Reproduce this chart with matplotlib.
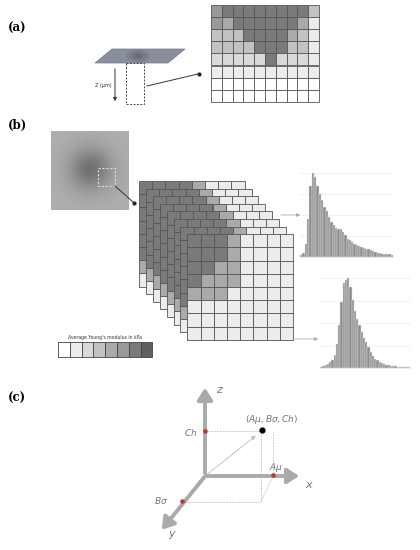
import numpy as np
import matplotlib
matplotlib.use("Agg")
import matplotlib.pyplot as plt
from matplotlib.patches import Rectangle, Polygon

# ---- data ----
shades = ['#ffffff', '#ececec', '#d9d9d9', '#c2c2c2', '#aaaaaa', '#999999', '#7a7a7a', '#5f5f5f']
grid_a = ["5666666663",
          "5466666641",
          "3336666431",
          "3333666331",
          "2222262221",
          "1111111111",
          "0000000000",
          "0000000000"]
grid_front = ["66641111",
              "66641111",
              "66441111",
              "64441111",
              "44411111",
              "11111111",
              "11111111",
              "11111111"]
grid_back = ["66664111",
             "66641111",
             "66441111",
             "66441111",
             "66411111",
             "66411111",
             "41111111",
             "11111111"]
n_layers = 8
hist1 = [2, 5, 15, 45, 85, 100, 95, 85, 75, 68, 60, 55, 48, 42, 38, 35, 33, 33, 30, 26,
         22, 20, 18, 16, 14, 13, 12, 11, 10, 9, 8, 7, 6, 5, 5, 4, 4, 3, 3, 2]
hist2 = [1, 2, 3, 4, 6, 8, 14, 25, 45, 70, 90, 93, 95, 85, 72, 60, 52, 45, 38, 32,
         27, 22, 17, 13, 10, 8, 6, 5, 4, 3, 3, 2, 2, 2, 1, 1, 1, 1, 1, 1]
legend_levels = [0, 1, 2, 3, 4, 5, 6, 7]

fig = plt.figure(figsize=(4.2, 5.5), dpi=100)
ax = fig.add_axes([0, 0, 1, 1])
ax.set_xlim(0, 420); ax.set_ylim(550, 0); ax.axis('off')

def draw_grid(grid, x0, y0, cw, ch, z=1):
    for r, row in enumerate(grid):
        for c, v in enumerate(row):
            ax.add_patch(Rectangle((x0 + c*cw, y0 + r*ch), cw, ch, facecolor=shades[int(v)],
                                   edgecolor='#555555', lw=0.6, zorder=z))

serif = 'DejaVu Serif'
for lab, y in [('(a)', 28), ('(b)', 125), ('(c)', 398)]:
    ax.text(8, y, lab, fontsize=8.5, fontweight='bold', family=serif, va='center')

# ---- panel (a) ----
draw_grid(grid_a, 211, 5, 10.8, 12.1)
ax.add_patch(Polygon([(95, 63), (112, 49), (185, 49), (168, 63)], closed=True,
                     facecolor='#8a8f9e', edgecolor='#777a88', lw=0.5, zorder=2))
for s, a in [(12, 0.12), (8, 0.15), (4, 0.2)]:
    ax.add_patch(matplotlib.patches.Ellipse((138, 56), 2*s, s*1.1, color='#3a3a3a', alpha=a, lw=0, zorder=3))
ax.add_patch(Rectangle((126, 63), 18, 41, fill=False, ls=(0, (2, 1.5)), lw=0.7, edgecolor='#444', zorder=3))
ax.annotate('', xy=(115, 104), xytext=(115, 66), arrowprops=dict(arrowstyle='-|>', lw=0.7, color='#333', mutation_scale=5))
ax.text(112, 85, 'Z (μm)', fontsize=3.5, ha='right', va='center', color='#333')
ax.plot([147, 198], [86, 74], color='#333', lw=0.7)
ax.plot([199], [74], 'o', ms=2, color='#222')

# ---- panel (b) ----
yy, xx = np.mgrid[0:80, 0:80]
r2 = (xx - 40)**2 + (yy - 38)**2
img = 0.68 - 0.24*np.exp(-r2/450)
ax.imshow(img, cmap='gray', vmin=0, vmax=1, extent=(51, 129, 210, 131), zorder=1)
ax.add_patch(Rectangle((98, 168), 17, 18, fill=False, ls=(0, (2, 1.5)), lw=0.8, edgecolor='#dddddd', zorder=3))
ax.plot([115, 133], [186, 202], color='#333', lw=0.7, zorder=3)
ax.plot([134], [203], 'o', ms=2, color='#222', zorder=3)
cw = 13.2
for k in range(n_layers):
    g = grid_front if k == n_layers - 1 else grid_back
    draw_grid(g, 139 + 6.9*k, 181 + 7.6*k, cw, cw, z=2 + k)
# legend
for i, lv in enumerate(legend_levels):
    ax.add_patch(Rectangle((58 + i*11.8, 342), 11.8, 15, facecolor=shades[lv], edgecolor='#444', lw=0.6))
ax.text(105, 337, "Average Young's modulus in kPa", fontsize=3.3, ha='center', va='center', color='#333')

def hist(vals, x0, x1, base, height):
    w = (x1 - x0)/len(vals)
    for gy in np.linspace(base, base - height, 5):
        ax.plot([x0, x1], [gy, gy], color='#ececec', lw=0.5, zorder=1)
    m = max(vals)
    for i, v in enumerate(vals):
        ax.add_patch(Rectangle((x0 + i*w, base), w, -v/m*height, facecolor='#8c8c8c',
                               edgecolor='#e0e0e0', lw=0.35, zorder=2))
hist(hist1, 300, 393, 257, 84)
hist(hist2, 320, 410, 368, 90)
ax.annotate('', xy=(303, 215), xytext=(278, 215), arrowprops=dict(arrowstyle='-|>', lw=0.6, color='#aaa', mutation_scale=5))
ax.annotate('', xy=(321, 339), xytext=(292, 339), arrowprops=dict(arrowstyle='-|>', lw=0.6, color='#aaa', mutation_scale=5))

# ---- panel (c) ----
O = (205, 476)
ac = '#aaaaaa'
kw = dict(arrowstyle='-|>,head_width=0.45,head_length=0.7', lw=2.8, color=ac, mutation_scale=10)
ax.annotate('', xy=(205, 385), xytext=O, arrowprops=kw)
ax.annotate('', xy=(302, 476), xytext=(203, 476), arrowprops=kw)
ax.annotate('', xy=(160, 532), xytext=(206, 475), arrowprops=kw)
dk = dict(color='#bbbbbb', lw=0.6, ls=(0, (2, 1.5)))
ax.plot([205, 262], [431, 431], **dk)
ax.plot([261, 261], [432, 502], **dk)
ax.plot([182, 261], [502, 502], **dk)
ax.plot([261, 273], [502, 476], **dk)
ax.plot([273, 273], [476, 431], **dk)
ax.annotate('', xy=(258, 434), xytext=O, arrowprops=dict(arrowstyle='-|>', lw=0.6, color='#bbbbbb', mutation_scale=6))
ax.plot([262], [430], 'o', ms=3.5, color='black', zorder=5)
for p in [(205, 431), (273, 475), (182, 501)]:
    ax.plot(*p, 'o', ms=2.3, color='#c0392b', zorder=5)
tc = '#777777'
ax.text(216, 390, '$z$', fontsize=8, color=tc, va='center')
ax.text(305, 485, '$x$', fontsize=8, color=tc, va='center')
ax.text(168, 535, '$y$', fontsize=8, color=tc, va='center')
ax.text(197, 432, '$Ch$', fontsize=6.5, color=tc, ha='right', va='center')
ax.text(168, 500, r'$B\sigma$', fontsize=6.5, color=tc, ha='right', va='center')
ax.text(276, 467, r'$A\mu$', fontsize=6.5, color=tc, ha='center', va='center')
ax.text(245, 420, r'$(A\mu, B\sigma, Ch)$', fontsize=6.5, color=tc, va='center')

fig.savefig('out.png', dpi=100)
